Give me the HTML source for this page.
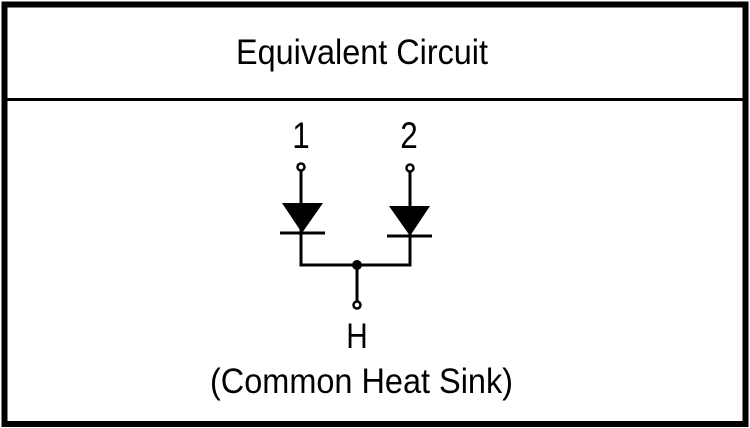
<!DOCTYPE html>
<html><head><meta charset="utf-8"><style>
html,body{margin:0;padding:0;background:#fff;width:750px;height:428px;overflow:hidden}
svg{display:block}
text{font-family:"Liberation Sans",sans-serif;fill:#000}
</style></head><body>
<svg width="750" height="428" viewBox="0 0 750 428">
<rect x="4.5" y="4.5" width="741" height="419.5" fill="#fff" stroke="#000" stroke-width="6"/>
<line x1="4" y1="99.5" x2="746" y2="99.5" stroke="#000" stroke-width="3"/>
<text x="236" y="64" font-size="35" textLength="252" lengthAdjust="spacingAndGlyphs">Equivalent Circuit</text>
<g stroke="#000" stroke-width="3" fill="none">
<line x1="301" y1="171" x2="301" y2="265"/>
<line x1="410" y1="171" x2="410" y2="265"/>
<line x1="299.5" y1="265" x2="411.5" y2="265"/>
<line x1="357" y1="265" x2="357" y2="301"/>
<line x1="280" y1="233" x2="325" y2="233"/>
<line x1="387" y1="236" x2="432" y2="236"/>
<circle cx="301" cy="167" r="3.5" stroke-width="2.5" fill="#fff"/>
<circle cx="410" cy="168" r="3.5" stroke-width="2.5" fill="#fff"/>
<circle cx="357" cy="305" r="3.5" stroke-width="2.5" fill="#fff"/>
</g>
<polygon points="282,203 323,203 302,233" fill="#000"/>
<polygon points="389,206 430,206 410,236" fill="#000"/>
<circle cx="357" cy="265" r="5" fill="#000"/>
<text x="301" y="148" font-size="37" text-anchor="middle" transform="translate(301 0) scale(0.85 1) translate(-301 0)">1</text>
<text x="409" y="148" font-size="37" text-anchor="middle" transform="translate(409 0) scale(0.85 1) translate(-409 0)">2</text>
<text x="357" y="348" font-size="35" text-anchor="middle" transform="translate(357 0) scale(0.85 1) translate(-357 0)">H</text>
<text x="210" y="393" font-size="35" textLength="303" lengthAdjust="spacingAndGlyphs">(Common Heat Sink)</text>
</svg>
</body></html>
